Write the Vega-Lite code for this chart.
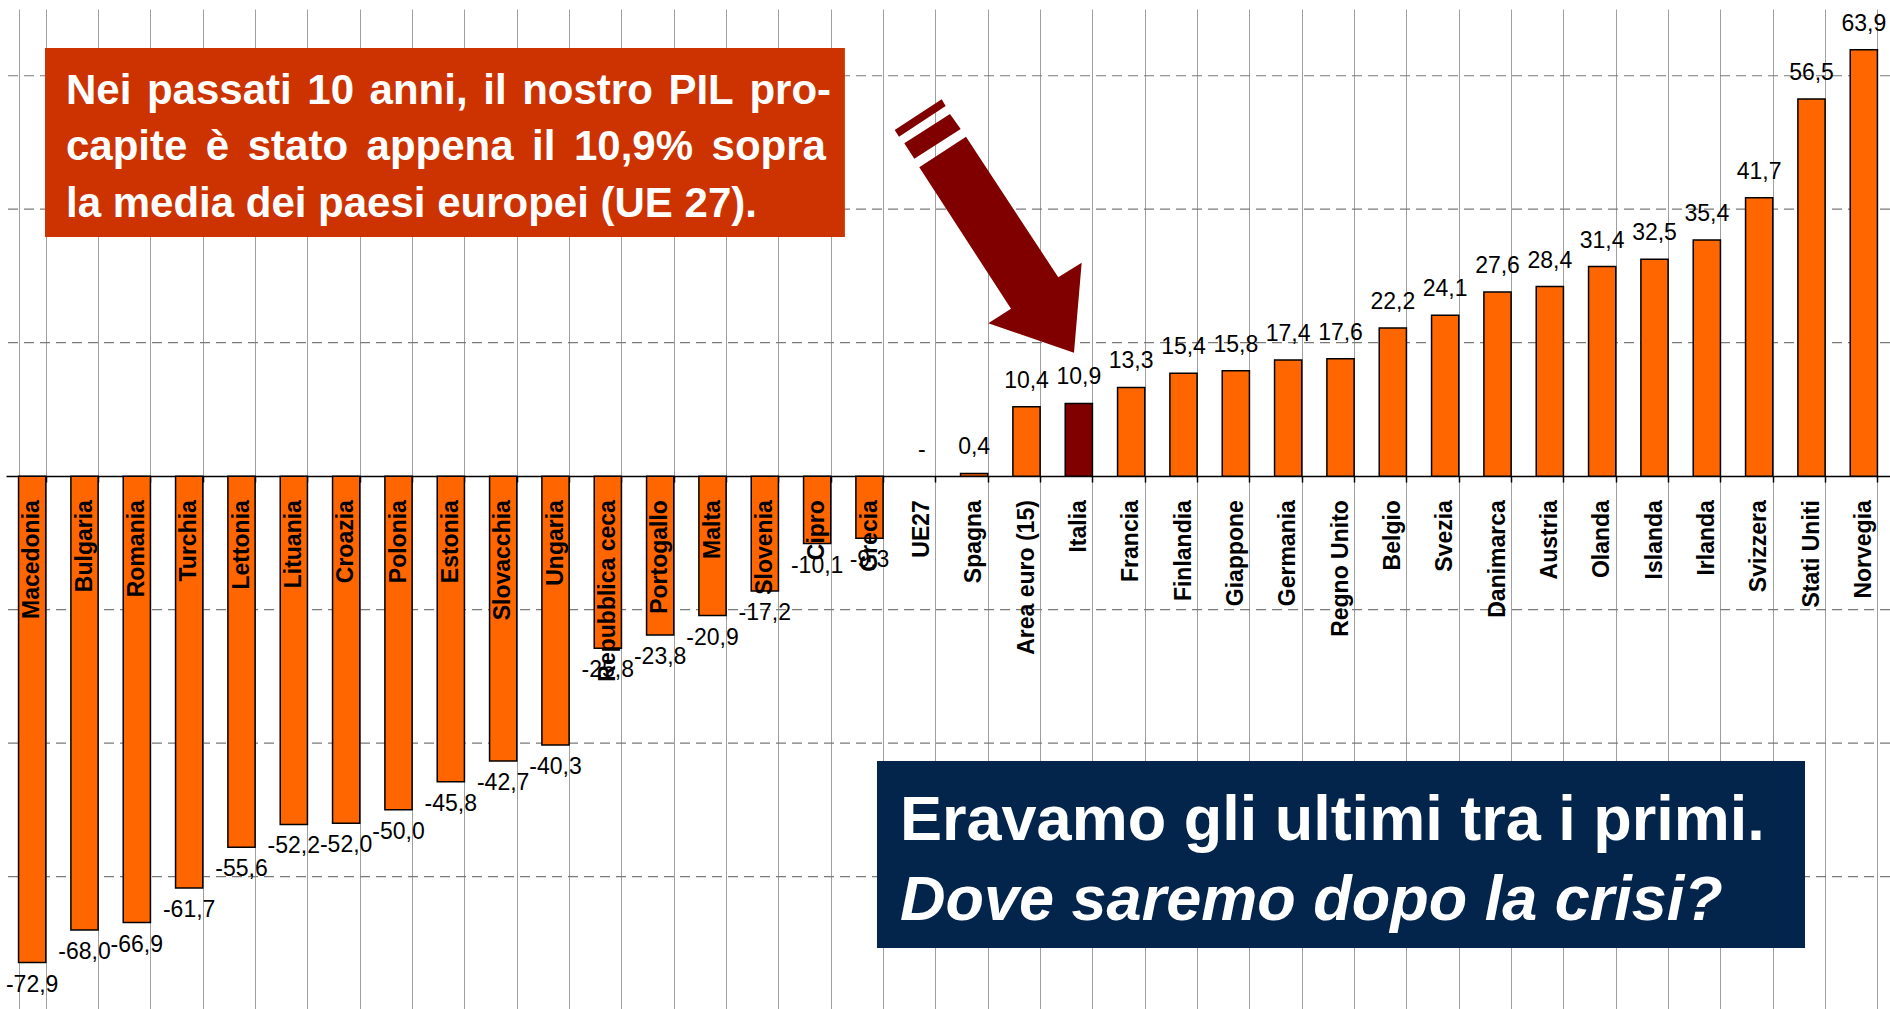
{
  "$schema": "https://vega.github.io/schema/vega-lite/v6.json",
  "width": 1884,
  "height": 1001,
  "autosize": {"type": "none"},
  "padding": {"left": 6, "top": 9, "right": 0, "bottom": 0},
  "background": "white",
  "config": {"view": {"stroke": null}, "font": "Liberation Sans"},
  "datasets": {
    "pil": [
      {"paese": "Macedonia", "valore": -72.9, "etichetta": "-72,9"},
      {"paese": "Bulgaria", "valore": -68.0, "etichetta": "-68,0"},
      {"paese": "Romania", "valore": -66.9, "etichetta": "-66,9"},
      {"paese": "Turchia", "valore": -61.7, "etichetta": "-61,7"},
      {"paese": "Lettonia", "valore": -55.6, "etichetta": "-55,6"},
      {"paese": "Lituania", "valore": -52.2, "etichetta": "-52,2"},
      {"paese": "Croazia", "valore": -52.0, "etichetta": "-52,0"},
      {"paese": "Polonia", "valore": -50.0, "etichetta": "-50,0"},
      {"paese": "Estonia", "valore": -45.8, "etichetta": "-45,8"},
      {"paese": "Slovacchia", "valore": -42.7, "etichetta": "-42,7"},
      {"paese": "Ungaria", "valore": -40.3, "etichetta": "-40,3"},
      {"paese": "Repubblica ceca", "valore": -25.8, "etichetta": "-25,8"},
      {"paese": "Portogallo", "valore": -23.8, "etichetta": "-23,8"},
      {"paese": "Malta", "valore": -20.9, "etichetta": "-20,9"},
      {"paese": "Slovenia", "valore": -17.2, "etichetta": "-17,2"},
      {"paese": "Cipro", "valore": -10.1, "etichetta": "-10,1"},
      {"paese": "Grecia", "valore": -9.3, "etichetta": "-9,3"},
      {"paese": "UE27", "valore": 0, "etichetta": "-"},
      {"paese": "Spagna", "valore": 0.4, "etichetta": "0,4"},
      {"paese": "Area euro (15)", "valore": 10.4, "etichetta": "10,4"},
      {"paese": "Italia", "valore": 10.9, "etichetta": "10,9"},
      {"paese": "Francia", "valore": 13.3, "etichetta": "13,3"},
      {"paese": "Finlandia", "valore": 15.4, "etichetta": "15,4"},
      {"paese": "Giappone", "valore": 15.8, "etichetta": "15,8"},
      {"paese": "Germania", "valore": 17.4, "etichetta": "17,4"},
      {"paese": "Regno Unito", "valore": 17.6, "etichetta": "17,6"},
      {"paese": "Belgio", "valore": 22.2, "etichetta": "22,2"},
      {"paese": "Svezia", "valore": 24.1, "etichetta": "24,1"},
      {"paese": "Danimarca", "valore": 27.6, "etichetta": "27,6"},
      {"paese": "Austria", "valore": 28.4, "etichetta": "28,4"},
      {"paese": "Olanda", "valore": 31.4, "etichetta": "31,4"},
      {"paese": "Islanda", "valore": 32.5, "etichetta": "32,5"},
      {"paese": "Irlanda", "valore": 35.4, "etichetta": "35,4"},
      {"paese": "Svizzera", "valore": 41.7, "etichetta": "41,7"},
      {"paese": "Stati Uniti", "valore": 56.5, "etichetta": "56,5"},
      {"paese": "Norvegia", "valore": 63.9, "etichetta": "63,9"}
    ],
    "griglia": [
      {"v": -60}, {"v": -40}, {"v": -20}, {"v": 20}, {"v": 40}, {"v": 60}
    ],
    "riquadri": [
      {"box": "rosso", "x1": 0.745, "x2": 16.03, "y1": 64.16, "y2": 35.83},
      {"box": "blu", "x1": 16.643, "x2": 34.376, "y1": -42.69, "y2": -70.71}
    ],
    "testi": [
      {"gruppo": "rosso", "testo": "Nei", "x": 1.1465, "y": 55.76},
      {"gruppo": "rosso", "testo": "passati", "x": 2.693, "y": 55.76},
      {"gruppo": "rosso", "testo": "10", "x": 5.757, "y": 55.76},
      {"gruppo": "rosso", "testo": "anni,", "x": 6.947, "y": 55.76},
      {"gruppo": "rosso", "testo": "il", "x": 9.119, "y": 55.76},
      {"gruppo": "rosso", "testo": "nostro", "x": 9.863, "y": 55.76},
      {"gruppo": "rosso", "testo": "PIL", "x": 12.658, "y": 55.76},
      {"gruppo": "rosso", "testo": "pro-", "x": 14.205, "y": 55.76},
      {"gruppo": "rosso", "testo": "capite", "x": 1.1465, "y": 47.37},
      {"gruppo": "rosso", "testo": "è", "x": 3.819, "y": 47.37},
      {"gruppo": "rosso", "testo": "stato", "x": 4.619, "y": 47.37},
      {"gruppo": "rosso", "testo": "appena", "x": 6.89, "y": 47.37},
      {"gruppo": "rosso", "testo": "il", "x": 10.053, "y": 47.37},
      {"gruppo": "rosso", "testo": "10,9%", "x": 10.853, "y": 47.37},
      {"gruppo": "rosso", "testo": "sopra", "x": 13.482, "y": 47.37},
      {"gruppo": "rosso", "testo": "la media dei paesi europei (UE 27).", "x": 1.1465, "y": 38.83},
      {"gruppo": "blu1", "testo": "Eravamo gli ultimi tra i primi.", "x": 17.083, "y": -54.53},
      {"gruppo": "blu2", "testo": "Dove saremo dopo la crisi?", "x": 17.083, "y": -66.51}
    ],
    "freccia": [
      {"x": 18.764, "y": 37.48}
    ]
  },
  "layer": [
    {
      "data": {"name": "pil"},
      "layer": [
        {
          "data": {"name": "griglia"},
          "mark": {"type": "rule", "strokeDash": [10, 6], "color": "#7a7a7a", "strokeWidth": 1.2},
          "encoding": {
            "y": {"field": "v", "type": "quantitative", "axis": null}
          }
        },
        {
          "transform": [{"filter": "datum.valore !== 0"}],
          "mark": {"type": "bar", "stroke": "#000000", "strokeWidth": 1.5},
          "encoding": {
            "x": {
              "field": "paese", "type": "nominal", "sort": null,
              "scale": {
                "domain": ["Macedonia","Bulgaria","Romania","Turchia","Lettonia","Lituania","Croazia","Polonia","Estonia","Slovacchia","Ungaria","Repubblica ceca","Portogallo","Malta","Slovenia","Cipro","Grecia","UE27","Spagna","Area euro (15)","Italia","Francia","Finlandia","Giappone","Germania","Regno Unito","Belgio","Svezia","Danimarca","Austria","Olanda","Islanda","Irlanda","Svizzera","Stati Uniti","Norvegia"],
                "paddingInner": 0.48, "paddingOuter": 0.24
              },
              "axis": {"orient": "bottom", "labels": false, "ticks": false, "domain": false, "grid": true, "gridColor": "#a0a0a0", "gridWidth": 1, "tickBand": "extent", "title": null}
            },
            "y": {
              "field": "valore", "type": "quantitative",
              "scale": {"domain": [-80, 70], "nice": false},
              "axis": {"labels": false, "ticks": false, "grid": false, "domain": true, "domainColor": "#000000", "domainWidth": 2, "title": null}
            },
            "color": {"condition": {"test": "datum.paese === 'Italia'", "value": "#800000"}, "value": "#FF6600"}
          }
        },
        {
          "mark": {"type": "point", "opacity": 0},
          "encoding": {
            "x": {
              "field": "paese", "type": "nominal", "sort": null,
              "axis": {"orient": "bottom", "offset": -534, "labels": false, "ticks": true, "tickSize": 6, "tickColor": "#000000", "tickWidth": 1.5, "tickBand": "extent", "domain": true, "domainColor": "#000000", "domainWidth": 1.5, "grid": false, "title": null}
            },
            "y": {"datum": 0}
          }
        },
        {
          "transform": [{"filter": "datum.valore >= 0"}],
          "mark": {"type": "text", "dy": -19, "baseline": "alphabetic", "align": "center", "fontSize": 23, "font": "Liberation Sans", "color": "#000000"},
          "encoding": {
            "x": {"field": "paese", "type": "nominal", "sort": null, "axis": null},
            "y": {"field": "valore", "type": "quantitative"},
            "text": {"field": "etichetta"}
          }
        },
        {
          "transform": [{"filter": "datum.valore < 0"}],
          "mark": {"type": "text", "dy": 29, "baseline": "alphabetic", "align": "center", "fontSize": 23, "font": "Liberation Sans", "color": "#000000"},
          "encoding": {
            "x": {"field": "paese", "type": "nominal", "sort": null, "axis": null},
            "y": {"field": "valore", "type": "quantitative"},
            "text": {"field": "etichetta"}
          }
        },
        {
          "mark": {"type": "text", "angle": 270, "align": "right", "baseline": "middle", "dx": -24, "fontSize": 23, "fontWeight": "bold", "font": "Liberation Sans", "color": "#000000"},
          "encoding": {
            "x": {"field": "paese", "type": "nominal", "sort": null, "axis": null},
            "y": {"datum": 0},
            "text": {"field": "paese"}
          }
        }
      ],
      "resolve": {"axis": {"x": "independent"}}
    },
    {
      "layer": [
        {
          "data": {"name": "riquadri"},
          "mark": {"type": "rect"},
          "encoding": {
            "x": {"field": "x1", "type": "quantitative", "scale": {"domain": [0, 36], "nice": false, "zero": false}, "axis": null},
            "x2": {"field": "x2"},
            "y": {"field": "y1", "type": "quantitative", "axis": null},
            "y2": {"field": "y2"},
            "color": {"field": "box", "type": "nominal", "scale": {"domain": ["rosso", "blu"], "range": ["#CC3300", "#03244B"]}, "legend": null}
          }
        },
        {
          "data": {"name": "testi"},
          "transform": [{"filter": "datum.gruppo === 'rosso'"}],
          "mark": {"type": "text", "align": "left", "baseline": "alphabetic", "fontSize": 42, "fontWeight": "bold", "font": "Liberation Sans", "color": "#ffffff"},
          "encoding": {
            "x": {"field": "x", "type": "quantitative", "axis": null},
            "y": {"field": "y", "type": "quantitative", "axis": null},
            "text": {"field": "testo"}
          }
        },
        {
          "data": {"name": "testi"},
          "transform": [{"filter": "datum.gruppo === 'blu1'"}],
          "mark": {"type": "text", "align": "left", "baseline": "alphabetic", "fontSize": 63, "fontWeight": "bold", "font": "Liberation Sans", "color": "#ffffff"},
          "encoding": {
            "x": {"field": "x", "type": "quantitative", "axis": null},
            "y": {"field": "y", "type": "quantitative", "axis": null},
            "text": {"field": "testo"}
          }
        },
        {
          "data": {"name": "testi"},
          "transform": [{"filter": "datum.gruppo === 'blu2'"}],
          "mark": {"type": "text", "align": "left", "baseline": "alphabetic", "fontSize": 63, "fontWeight": "bold", "fontStyle": "italic", "font": "Liberation Sans", "color": "#ffffff"},
          "encoding": {
            "x": {"field": "x", "type": "quantitative", "axis": null},
            "y": {"field": "y", "type": "quantitative", "axis": null},
            "text": {"field": "testo"}
          }
        },
        {
          "data": {"name": "freccia"},
          "mark": {
            "type": "point",
            "shape": "M-0.687,-0.587 L-0.22,-0.893 L0.703,0.513 L0.937,0.367 L0.86,1.267 L0.003,0.973 L0.23,0.827 Z M-0.837,-0.827 L-0.38,-1.12 L-0.273,-0.97 L-0.737,-0.673 Z M-0.933,-0.96 L-0.463,-1.267 L-0.423,-1.2 L-0.89,-0.893 Z",
            "size": 40000, "filled": true, "color": "#800000", "opacity": 1, "strokeWidth": 0
          },
          "encoding": {
            "x": {"field": "x", "type": "quantitative", "axis": null},
            "y": {"field": "y", "type": "quantitative", "axis": null}
          }
        }
      ]
    }
  ],
  "resolve": {"scale": {"x": "independent"}}
}
